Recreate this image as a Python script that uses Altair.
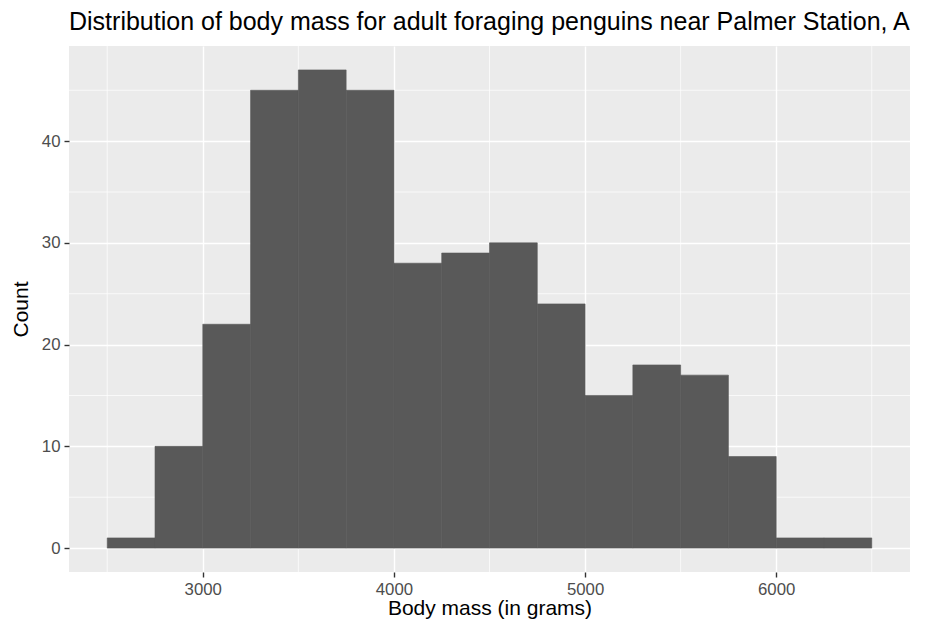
import altair as alt
import pandas as pd

bin_start = [2500, 2750, 3000, 3250, 3500, 3750, 4000, 4250, 4500, 4750, 5000, 5250, 5500, 5750, 6000, 6250]
bin_end = [2750, 3000, 3250, 3500, 3750, 4000, 4250, 4500, 4750, 5000, 5250, 5500, 5750, 6000, 6250, 6500]
counts = [1, 10, 22, 45, 47, 45, 28, 29, 30, 24, 15, 18, 17, 9, 1, 1]

x_major = [3000, 4000, 5000, 6000]
x_minor = [2500, 3500, 4500, 5500, 6500]
y_major = [0, 10, 20, 30, 40]
y_minor = [5, 15, 25, 35, 45]

df = pd.DataFrame({"start": bin_start, "end": bin_end, "count": counts})

FONT = "Liberation Sans"
xscale = alt.Scale(domain=[2300, 6700], nice=False, zero=False)
yscale = alt.Scale(domain=[-2.35, 49.35], nice=False, zero=False)

common = dict(grid=True, gridColor="white", gridWidth=1.4, domain=False, tickColor="#333333",
              tickSize=5, tickWidth=1.4, labelColor="#4D4D4D", labelFontSize=16.8, labelFont=FONT,
              titleFont=FONT, titleFontSize=21, titleFontWeight="normal", titleColor="black",
              format="d")
xaxis = alt.Axis(values=x_major, title="Body mass (in grams)", labelPadding=4, titlePadding=0, **common)
yaxis = alt.Axis(values=y_major, title="Count", labelPadding=4, titlePadding=10, **common)

minor_x = alt.Chart(pd.DataFrame({"v": x_minor})).mark_rule(color="white", strokeWidth=0.7).encode(
    x=alt.X("v:Q", scale=xscale, axis=xaxis))
minor_y = alt.Chart(pd.DataFrame({"v": y_minor})).mark_rule(color="white", strokeWidth=0.7).encode(
    y=alt.Y("v:Q", scale=yscale, axis=yaxis))

bars = alt.Chart(df).mark_rect(color="#595959", stroke="#595959", strokeWidth=0.6).encode(
    x=alt.X("start:Q", scale=xscale, axis=xaxis),
    x2="end:Q",
    y=alt.Y("count:Q", scale=yscale, axis=yaxis),
    y2=alt.datum(0),
)

chart = alt.layer(minor_x, minor_y, bars).properties(
    width=841, height=526,
    padding={"left": 61, "top": 38, "right": 10, "bottom": 51},
    autosize="none",
    title=alt.TitleParams("Distribution of body mass for adult foraging penguins near Palmer Station, A",
                          anchor="start", frame="group", font=FONT, fontSize=25, fontWeight="normal",
                          color="black", offset=11),
).configure_view(fill="#EBEBEB", stroke=None)

chart.save("out.html", embed_options={"renderer": "svg", "actions": False})
